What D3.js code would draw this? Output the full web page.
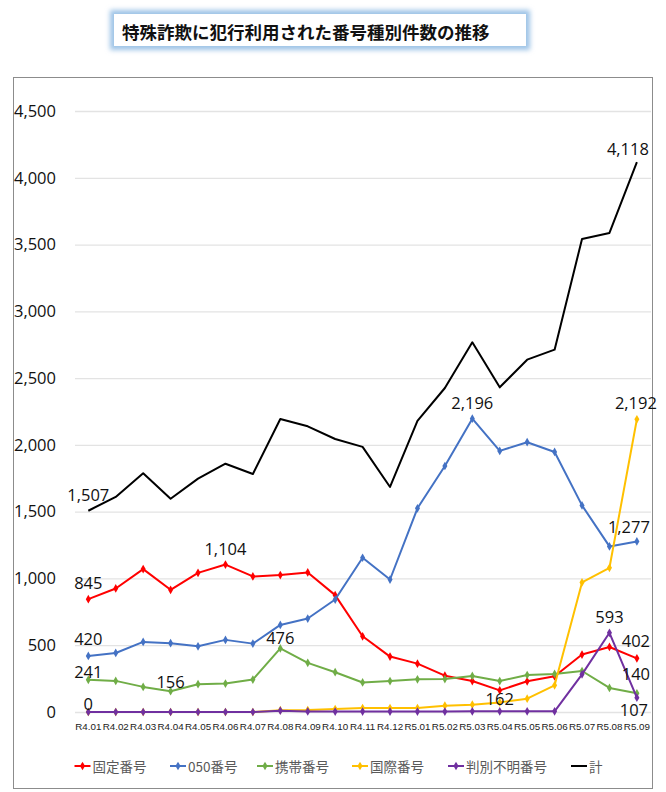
<!DOCTYPE html>
<html><head><meta charset="utf-8">
<script src="https://cdn.jsdelivr.net/npm/d3@7"></script>
<style>
html,body{margin:0;padding:0;background:#fff;}
svg{display:block;}
</style></head>
<body>
<script>
// ---- data ----
const categories = ["R4.01","R4.02","R4.03","R4.04","R4.05","R4.06","R4.07","R4.08","R4.09","R4.10","R4.11","R4.12","R5.01","R5.02","R5.03","R5.04","R5.05","R5.06","R5.07","R5.08","R5.09"];
const fixedLine = [845,925,1070,915,1042,1104,1015,1025,1045,875,567,415,362,272,232,162,230,267,430,487,402];
const ip050 = [420,442,525,515,492,540,512,652,700,842,1155,992,1525,1842,2196,1955,2020,1947,1547,1240,1277];
const mobile = [241,233,188,156,208,213,243,476,368,298,221,232,245,247,270,232,277,285,307,180,140];
const international = [0,0,0,0,0,0,0,14,15,22,30,30,30,47,55,72,100,200,970,1080,2192];
const unknown = [0,0,0,0,0,0,0,10,4,3,3,3,3,3,5,5,5,5,282,593,107];
const total = [1507,1610,1787,1597,1747,1859,1782,2194,2139,2044,1985,1685,2179,2426,2768,2431,2638,2713,3542,3587,4118];
const yTicks = [0,500,1000,1500,2000,2500,3000,3500,4000,4500];
const seriesNames = ["固定番号","050番号","携帯番号","国際番号","判別不明番号","計"];
const titleText = "特殊詐欺に犯行利用された番号種別件数の推移";

const series = [
  {name: seriesNames[0], values: fixedLine, color: "#FF0000", marker: true},
  {name: seriesNames[1], values: ip050, color: "#4472C4", marker: true},
  {name: seriesNames[2], values: mobile, color: "#70AD47", marker: true},
  {name: seriesNames[3], values: international, color: "#FFC000", marker: true},
  {name: seriesNames[4], values: unknown, color: "#7030A0", marker: true},
  {name: seriesNames[5], values: total, color: "#000000", marker: false}
];
// data labels: series index, point index, offsets
const labels = [
  {s:5,i:0,dx:0,dy:-16},{s:5,i:20,dx:-9,dy:-14},
  {s:0,i:0,dx:0,dy:-17},{s:0,i:5,dx:0,dy:-16},{s:0,i:15,dx:0,dy:8},{s:0,i:20,dx:-1,dy:-18},
  {s:1,i:0,dx:0,dy:-17},{s:1,i:14,dx:0,dy:-16},{s:1,i:20,dx:-8,dy:-15},
  {s:2,i:0,dx:0,dy:-8},{s:2,i:3,dx:0,dy:-10},{s:2,i:7,dx:0,dy:-11},{s:2,i:20,dx:-1,dy:-20},
  {s:4,i:0,dx:0,dy:-9},{s:3,i:20,dx:-1,dy:-17},
  {s:4,i:19,dx:0,dy:-16},{s:4,i:20,dx:-3,dy:12}
];

const W = 666, H = 792;
const svg = d3.select("body").append("svg").attr("width", W).attr("height", H);

// filter for title glow
const defs = svg.append("defs");
const f = defs.append("filter").attr("id","glow").attr("x","-20%").attr("y","-50%").attr("width","140%").attr("height","200%");
f.append("feGaussianBlur").attr("stdDeviation", 2.5);

// title box
svg.append("rect").attr("x",110).attr("y",10).attr("width",420).attr("height",40)
  .attr("fill","#9DC3E6").attr("filter","url(#glow)");
svg.append("rect").attr("x",114).attr("y",14).attr("width",412).attr("height",32).attr("fill","#fff");
svg.append("text").attr("x",122).attr("y",31).attr("dominant-baseline","central")
  .attr("font-family","'Noto Sans CJK JP', sans-serif").attr("font-weight","bold")
  .attr("font-size",17.5).attr("fill","#111").text(titleText);

// chart frame
svg.append("rect").attr("x",13.5).attr("y",77.5).attr("width",639).attr("height",711)
  .attr("fill","#fff").attr("stroke","#8c8c8c").attr("stroke-width",1);

// scales
const x = d3.scaleBand().domain(categories).range([74.6, 650.6]);
const cx = c => x(c) + x.bandwidth()/2;
const y = d3.scaleLinear().domain([0,4500]).range([712, 111]);

// gridlines
svg.append("g").selectAll("line").data(yTicks).join("line")
  .attr("x1",75).attr("x2",651).attr("y1",d=>y(d)+0.5).attr("y2",d=>y(d)+0.5)
  .attr("stroke","#e3e3e3").attr("stroke-width",1.3);

// y axis labels via d3 axis
const yAxis = svg.append("g").attr("transform","translate(56,0)")
  .call(d3.axisLeft(y).tickValues(yTicks).tickSize(0).tickPadding(0).tickFormat(d3.format(",")));
yAxis.select(".domain").remove();
yAxis.selectAll("text").attr("font-family","'Open Sans', sans-serif").attr("font-size",16.5).attr("fill","#111");

// x axis labels
const xAxis = svg.append("g").attr("transform","translate(0,723)")
  .call(d3.axisBottom(x).tickSize(0).tickPadding(0));
xAxis.select(".domain").remove();
xAxis.selectAll("text").attr("font-family","'Liberation Sans', sans-serif").attr("font-size",9.8).attr("fill","#222");

// lines
const line = d3.line().x((d,i)=>cx(categories[i])).y(d=>y(d));
const diamond = d3.symbol().type(d3.symbolDiamond).size(22);
series.forEach(s => {
  const g = svg.append("g");
  g.append("path").datum(s.values).attr("d", line).attr("fill","none")
    .attr("stroke", s.color).attr("stroke-width", 2).attr("stroke-linejoin","round");
  if (s.marker) {
    g.selectAll("path.m").data(s.values).join("path").attr("class","m")
      .attr("d", diamond).attr("fill", s.color)
      .attr("transform",(d,i)=>`translate(${cx(categories[i])},${y(d)})`);
  }
});

// data labels
const fmt = d3.format(",");
svg.append("g").selectAll("text").data(labels).join("text")
  .attr("x", d => cx(categories[d.i]) + d.dx)
  .attr("y", d => y(series[d.s].values[d.i]) + d.dy)
  .attr("text-anchor","middle").attr("dominant-baseline","central")
  .attr("font-family","'Open Sans', sans-serif").attr("font-size",16.5).attr("fill","#111")
  .text(d => fmt(series[d.s].values[d.i]));

// legend
const legendX = [74.5, 170, 257, 352, 448, 571];
const lg = svg.append("g").attr("transform","translate(0,766)");
series.forEach((s,k) => {
  const g = lg.append("g").attr("transform",`translate(${legendX[k]},0)`);
  g.append("line").attr("x1",0).attr("x2",16).attr("stroke",s.color).attr("stroke-width",2);
  if (s.marker) g.append("path").attr("d",diamond).attr("fill",s.color).attr("transform","translate(8,0)");
  g.append("text").attr("x",18).attr("dominant-baseline","central")
    .attr("font-family","'Noto Sans CJK JP', sans-serif").attr("font-size",13.5).attr("fill","#595959")
    .text(s.name);
});
</script>
</body></html>
